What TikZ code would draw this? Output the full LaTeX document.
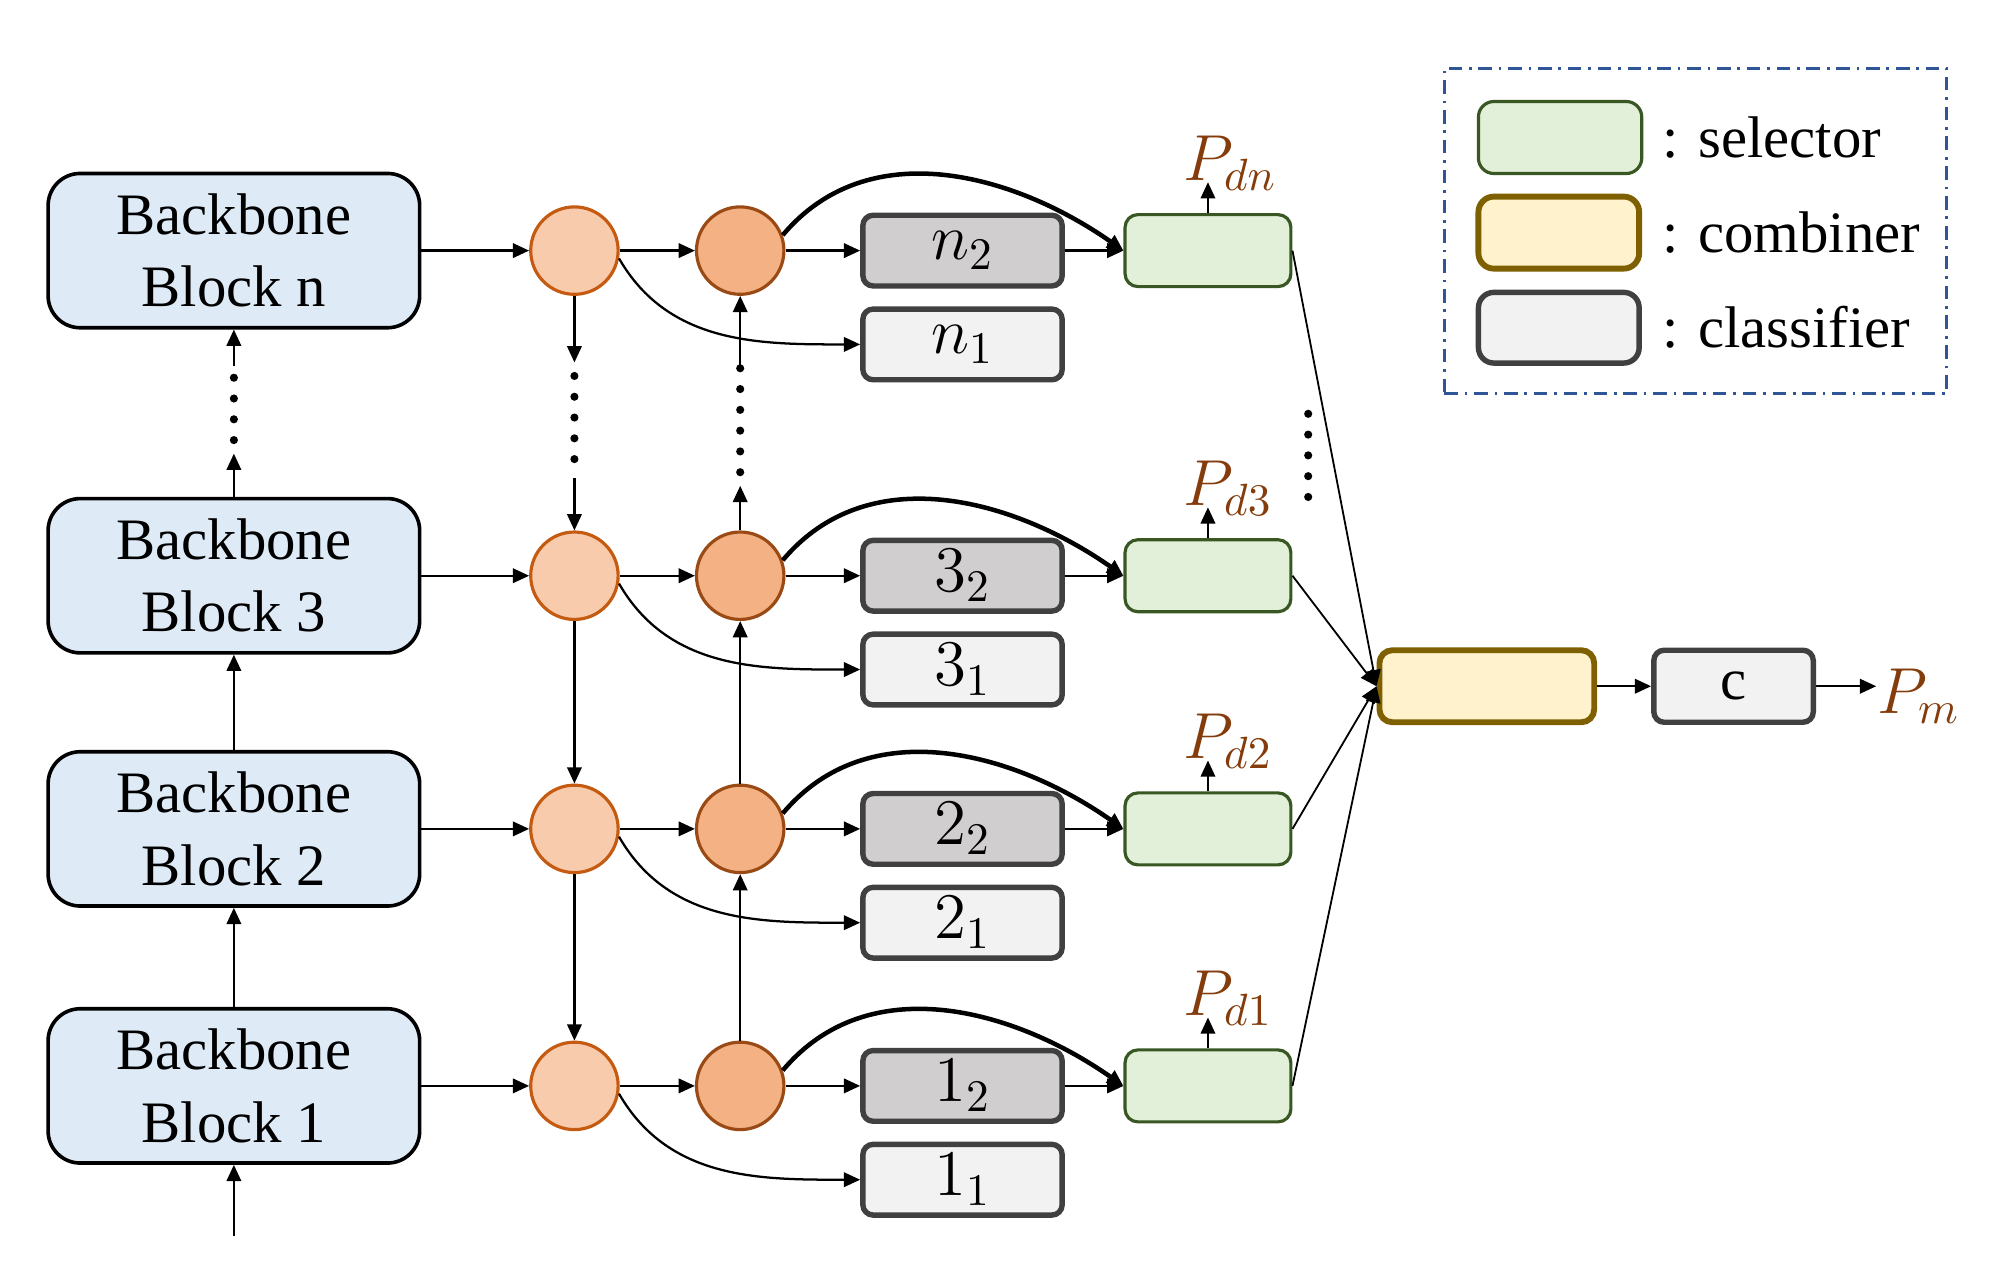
\documentclass[tikz,border=0pt]{standalone}
\usepackage{fontspec}
\setmainfont{Liberation Serif}
\usetikzlibrary{arrows.meta,fit}

\definecolor{bbfill}{HTML}{DEEBF7}
\definecolor{lcfill}{HTML}{F8CBAD}
\definecolor{lcline}{HTML}{C55A11}
\definecolor{dcfill}{HTML}{F4B183}
\definecolor{dcline}{HTML}{9A4A14}
\definecolor{graydark}{HTML}{D0CECE}
\definecolor{graylight}{HTML}{F2F2F2}
\definecolor{grayline}{HTML}{404040}
\definecolor{selfill}{HTML}{E2F0D9}
\definecolor{selline}{HTML}{385723}
\definecolor{combfill}{HTML}{FFF2CC}
\definecolor{combline}{HTML}{7F6000}
\definecolor{pbrown}{HTML}{843C0C}
\definecolor{legblue}{HTML}{2F5597}

\tikzset{
  backbone/.style={draw, line width=0.8pt, fill=bbfill, rounded corners=0.25cm,
    minimum width=2.89cm, minimum height=1.2cm, align=center,
    font=\fontsize{13}{16}\selectfont},
  lcirc/.style={circle, draw=lcline, fill=lcfill, line width=0.7pt, minimum size=0.68cm, inner sep=0pt},
  dcirc/.style={circle, draw=dcline, fill=dcfill, line width=0.7pt, minimum size=0.68cm, inner sep=0pt},
  clsbox/.style={draw=grayline, line width=1.2pt, rounded corners=0.08cm, minimum width=1.55cm,
    minimum height=0.55cm, inner sep=0pt, font=\fontsize{14}{14}\selectfont},
  selbox/.style={draw=selline, fill=selfill, line width=0.7pt, rounded corners=0.1cm,
    minimum width=1.29cm, minimum height=0.56cm, inner sep=0pt},
  combbox/.style={draw=combline, fill=combfill, line width=1.3pt, rounded corners=0.1cm,
    minimum width=1.67cm, minimum height=0.56cm, inner sep=0pt},
  plabel/.style={text=pbrown, font=\fontsize{14}{14}\selectfont, inner sep=0pt},
  legtext/.style={anchor=west, font=\fontsize{13}{13}\selectfont, inner sep=0pt},
  conn/.style={-{Triangle[length=3.6pt,width=3.2pt]}, line width=0.5pt},
  bendconn/.style={conn, line width=1pt},
  dots/.style={line width=1.8pt, line cap=round, dash pattern=on 0pt off 4.6pt},
}

\begin{document}
\begin{tikzpicture}[x=0.01cm,y=0.01cm]
\useasboundingbox (0,0) rectangle (1568,-999);

% one row per backbone block
\foreach \r/\y in {n/-195,3/-448,2/-645,1/-845}{
  \node[backbone] (bb\r) at (182,\y) {Backbone\\Block \r};
  \node[lcirc] (lc\r) at (447,\y) {};
  \node[dcirc] (dc\r) at (576,\y) {};
  \node[clsbox, fill=graydark] (cb\r) at (749,\y) {$\r_2$};
  \node[clsbox, fill=graylight] (ca\r) at (749,\y-73) {$\r_1$};
  \node[selbox] (sel\r) at (940,\y) {};
  \draw[conn] (bb\r) -- (lc\r);
  \draw[conn] (lc\r) -- (dc\r);
  \draw[conn] (dc\r) -- (cb\r);
  \draw[conn] (cb\r) -- (sel\r);
  \draw[conn] (lc\r.-10) to[out=-60,in=180] (ca\r.west);
  \draw[bendconn] (dc\r.20) to[out=50,in=145] (sel\r.west);
  \draw[conn] (sel\r.north) -- ++(0,24) coordinate (pt\r);
  \node[plabel, anchor=south west, xshift=-0.2cm, yshift=-0.07cm] (P\r) at (pt\r) {$P_{d\r}$};
}

% vertical links
\coordinate (in) at (182,-962);
\draw[conn] (in) -- (bb1);
\draw[conn] (bb1) -- (bb2);
\draw[conn] (bb2) -- (bb3);
\draw[conn] (lc3) -- (lc2);
\draw[conn] (lc2) -- (lc1);
\draw[conn] (dc1) -- (dc2);
\draw[conn] (dc2) -- (dc3);

% dotted gaps
\coordinate (bbA) at (182,-353); \coordinate (bbB) at (182,-285);
\draw[conn] (bb3) -- (bbA);
\draw[dots, shorten <=3pt] (bbA) -- (bbB);
\draw[conn] (bbB) -- (bbn);
\coordinate (lcA) at (447,-282); \coordinate (lcB) at (447,-372);
\draw[conn] (lcn) -- (lcA);
\draw[dots, shorten <=3pt] (lcA) -- (lcB);
\draw[conn] (lcB) -- (lc3);
\coordinate (dcA) at (576,-378); \coordinate (dcB) at (576,-285);
\draw[conn] (dc3) -- (dcA);
\draw[dots, shorten <=3pt] (dcA) -- (dcB);
\draw[conn] (dcB) -- (dcn);
\coordinate (selA) at (1018,-322); \coordinate (selB) at (1018,-400);
\draw[dots] (selA) -- (selB);

% combiner and final classifier
\node[combbox] (comb) at (1157,-534) {};
\node[clsbox, fill=graylight, minimum width=1.24cm, minimum height=0.56cm, font=\fontsize{13}{13}\selectfont] (cls) at (1349,-534) {c};
\node[plabel] (Pm) at (1493,-542) {$P_m$};
\foreach \r in {n,3,2,1}
  \draw[conn, line width=0.4pt] (sel\r.east) -- (comb.west);
\draw[conn] (comb) -- (cls);
\draw[conn] (cls.east) -- (cls.east -| Pm.west);

% legend
\node[selbox, minimum width=1.27cm, rounded corners=0.12cm] (kSel) at (1214,-107) {};
\node[combbox, minimum width=1.25cm, fill=combfill, rounded corners=0.12cm] (kComb) at (1213,-181) {};
\node[clsbox, fill=graylight, minimum width=1.25cm, minimum height=0.55cm, rounded corners=0.12cm] (kCls) at (1213,-255) {};
\node[legtext] (tSel) at (1293,-107) {: selector};
\node[legtext] (tComb) at (1293,-181) {: combiner};
\node[legtext] (tCls) at (1293,-255) {: classifier};
\coordinate (legA) at (1124,-53); \coordinate (legB) at (1515,-306);
\node[fit=(legA)(legB), draw=legblue, line width=0.7pt, inner sep=0pt,
  dash pattern=on 3pt off 1.5pt on 0.6pt off 1.5pt] (leg) {};
\end{tikzpicture}
\end{document}
